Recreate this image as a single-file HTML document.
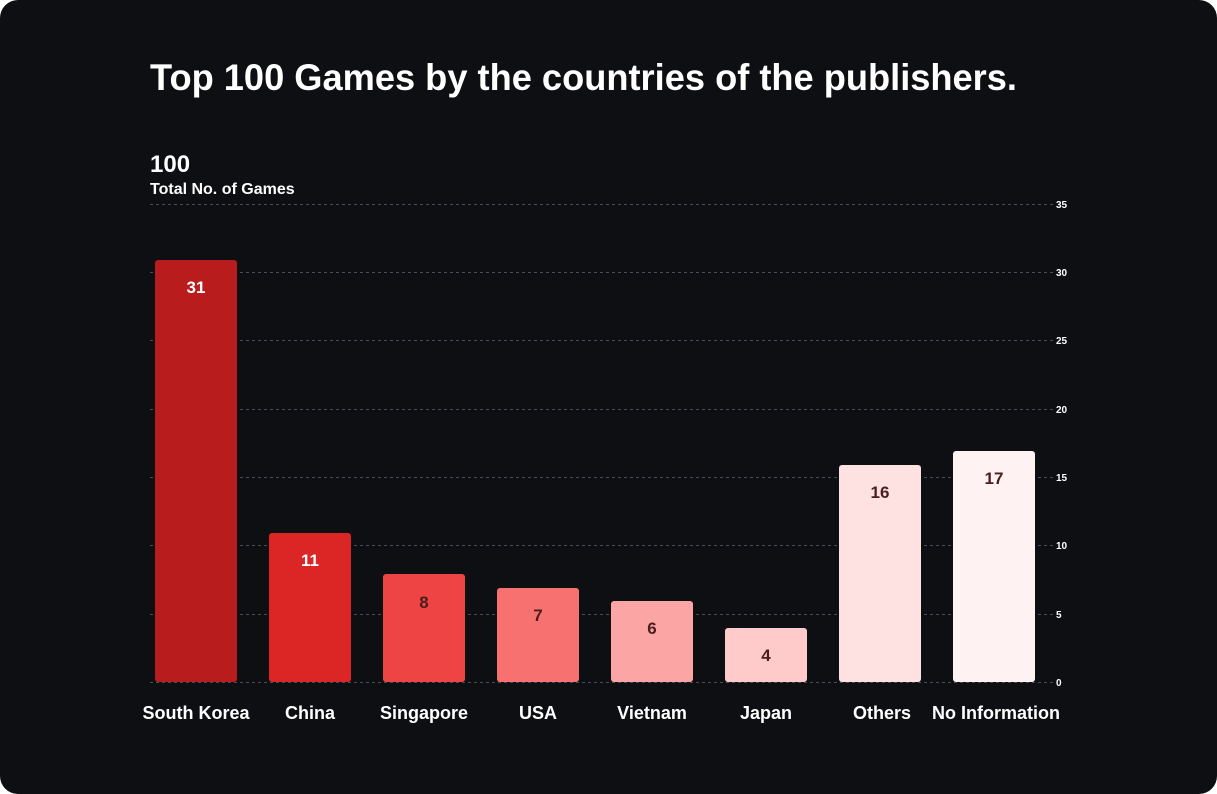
<!DOCTYPE html>
<html><head><meta charset="utf-8"><style>
html,body{margin:0;padding:0;background:#fff;}
body{width:1217px;height:794px;overflow:hidden;}
.card{position:absolute;left:0;top:0;width:1217px;height:794px;background:#0e0f13;border-radius:18px;}
svg{position:absolute;left:0;top:0;}
text{font-family:"Liberation Sans",sans-serif;font-weight:bold;}
</style></head><body>
<div class="card"></div>
<svg width="1217" height="794">
<text x="150" y="90" fill="#fff" font-size="37" textLength="867" lengthAdjust="spacingAndGlyphs">Top 100 Games by the countries of the publishers.</text>
<text x="150" y="172" fill="#fff" font-size="24">100</text>
<text x="150" y="194" fill="#fff" font-size="16">Total No. of Games</text>
<g stroke="#4a4d55" stroke-dasharray="3,3" stroke-width="1">
<line x1="150" x2="1055" y1="204.5" y2="204.5"/>
<line x1="150" x2="1055" y1="272.5" y2="272.5"/>
<line x1="150" x2="1055" y1="340.5" y2="340.5"/>
<line x1="150" x2="1055" y1="409.5" y2="409.5"/>
<line x1="150" x2="1055" y1="477.5" y2="477.5"/>
<line x1="150" x2="1055" y1="545.5" y2="545.5"/>
<line x1="150" x2="1055" y1="614.5" y2="614.5"/>
<line x1="150" x2="1055" y1="682.5" y2="682.5"/>
</g>
<g fill="#fff" font-size="10">
<text x="1056" y="208">35</text><text x="1056" y="276">30</text><text x="1056" y="344">25</text>
<text x="1056" y="413">20</text><text x="1056" y="481">15</text><text x="1056" y="549">10</text>
<text x="1056" y="618">5</text><text x="1056" y="686">0</text>
</g>
<g>
<rect x="155" y="260" width="82" height="422" rx="3" fill="#b91c1c"/>
<rect x="269" y="533" width="82" height="149" rx="3" fill="#dc2626"/>
<rect x="383" y="574" width="82" height="108" rx="3" fill="#ef4444"/>
<rect x="497" y="588" width="82" height="94" rx="3" fill="#f87171"/>
<rect x="611" y="601" width="82" height="81" rx="3" fill="#fca5a5"/>
<rect x="725" y="628" width="82" height="54" rx="3" fill="#fecaca"/>
<rect x="839" y="465" width="82" height="217" rx="3" fill="#fee2e2"/>
<rect x="953" y="451" width="82" height="231" rx="3" fill="#fef2f2"/>
</g>
<g font-size="17" text-anchor="middle">
<text x="196" y="293" fill="#fff">31</text>
<text x="310" y="566" fill="#fff">11</text>
<text x="424" y="608" fill="#4a1d1f">8</text>
<text x="538" y="621" fill="#4a1d1f">7</text>
<text x="652" y="634" fill="#4a1d1f">6</text>
<text x="766" y="661" fill="#4a1d1f">4</text>
<text x="880" y="498" fill="#4a1d1f">16</text>
<text x="994" y="484" fill="#4a1d1f">17</text>
</g>
<g font-size="18" text-anchor="middle" fill="#fff">
<text x="196" y="719">South Korea</text>
<text x="310" y="719">China</text>
<text x="424" y="719">Singapore</text>
<text x="538" y="719">USA</text>
<text x="652" y="719">Vietnam</text>
<text x="766" y="719">Japan</text>
<text x="882" y="719">Others</text>
<text x="996" y="719">No Information</text>
</g>
</svg>
</body></html>
